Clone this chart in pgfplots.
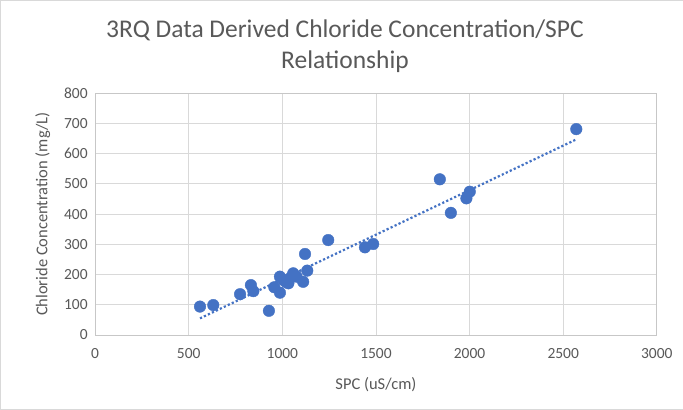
\documentclass[border=0pt]{standalone}
\usepackage{pgfplots}
\pgfplotsset{compat=1.18}
\usepackage{fontspec}
\setmainfont{Carlito}
\definecolor{txtgray}{RGB}{89,89,89}
\definecolor{gridgray}{RGB}{217,217,217}
\definecolor{ptblue}{RGB}{68,114,196}
\begin{document}
\begin{tikzpicture}[x=1pt,y=1pt]
\path[use as bounding box, draw=gridgray, fill=white] (0,0) rectangle (683,409);
\node[text=txtgray, font=\fontsize{25.5}{31}\selectfont, align=center] at (345,363) {3RQ Data Derived Chloride Concentration/SPC\\Relationship};
\begin{axis}[
  at={(95pt,74pt)}, anchor=south west,
  scale only axis, width=562pt, height=242pt,
  xmin=0, xmax=3000, ymin=0, ymax=800,
  xtick={0,500,...,3000}, ytick={0,100,...,800},
  grid=major, major grid style={gridgray, line width=0.8pt},
  axis line style={gridgray!80!gray, line width=0.8pt},
  tick style={draw=none},
  ticklabel style={text=txtgray, font=\fontsize{15.5}{17}\selectfont},
  /pgf/number format/assume math mode=true,
  /pgf/number format/1000 sep={},
  xticklabel style={yshift=-10pt},
  yticklabel style={xshift=-4pt},
  xlabel={SPC (uS/cm)}, ylabel={Chloride Concentration (mg/L)},
  label style={text=txtgray, font=\fontsize{16.5}{18}\selectfont},
  xlabel style={yshift=-12pt},
  ylabel style={yshift=7pt},
]
\addplot[ptblue, only marks, mark=*, mark size=5.8pt, mark options={draw=ptblue, fill=ptblue}] coordinates {
(560,94) (631,99) (774,135) (832,165) (845,145) (928,80) (957,158)
(987,193) (987,140) (1005,182) (1020,175) (1032,171) (1045,190) (1058,204) (1076,193)
(1111,176) (1133,213) (1121,268) (1245,314) (1441,290) (1485,301)
(1841,515) (1900,404) (1983,452) (2001,474) (2570,681)
};
\addplot[ptblue, line width=2.2pt, dash pattern=on 2.2pt off 2.2pt] coordinates {(560,55) (2570,647)};
\end{axis}
\end{tikzpicture}
\end{document}
